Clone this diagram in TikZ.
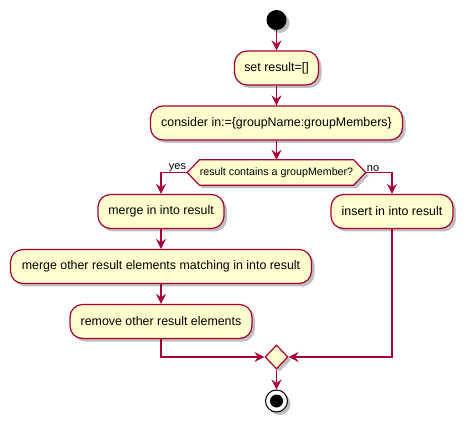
\documentclass[tikz,border=0pt]{standalone}
\usepackage{fontspec}
\setmainfont{Liberation Sans}
\usetikzlibrary{arrows.meta,shadows,shapes.geometric,calc}
\definecolor{pfill}{HTML}{FEFECE}
\definecolor{pline}{HTML}{A80036}
\tikzset{
  shd/.style={drop shadow={shadow xshift=3pt,shadow yshift=-3pt,fill=black,opacity=0.25}},
  actbox/.style={draw=pline,fill=pfill,line width=1.2pt,rounded corners=12.5pt,
    minimum height=34pt,inner sep=0pt,font=\fontsize{12.4}{14}\selectfont,shd},
  flow/.style={draw=pline,line width=1.2pt,-{Stealth[length=10pt,width=10pt,inset=3.5pt]}},
  plain/.style={draw=pline,line width=1.2pt},
  lbl/.style={font=\fontsize{11}{13}\selectfont,inner sep=1pt},
}
\begin{document}
\begin{tikzpicture}[x=1pt,y=-1pt]
\useasboundingbox (0,0) rectangle (468,427);
% start
\node[circle,fill=black,minimum size=20pt,inner sep=0pt,shd] (start) at (276.5,20) {};
\node[actbox,minimum width=84pt] (set) at (276.5,68) {set result=[]};
\node[actbox,minimum width=252pt] (cons) at (276.5,123) {consider in:=\{groupName:groupMembers\}};
% decision hexagon
\node[minimum width=178pt,minimum height=25pt,inner sep=0pt] (dec) at (276.5,172.5) {};
\filldraw[draw=pline,fill=pfill,line width=1.2pt,shd]
  (dec.west) -- ($(dec.north west)+(12,0)$) -- ($(dec.north east)+(-12,0)$) -- (dec.east)
  -- ($(dec.south east)+(-12,0)$) -- ($(dec.south west)+(12,0)$) -- cycle;
\node[font=\fontsize{10.7}{12}\selectfont] at (dec) {result contains a groupMember?};
\node[actbox,minimum width=126pt] (merge) at (161,211.5) {merge in into result};
\node[actbox,minimum width=122pt] (ins) at (392,211.5) {insert in into result};
\node[actbox,minimum width=301pt] (mother) at (161,266.5) {merge other result elements matching in into result};
\node[actbox,minimum width=182pt] (rem) at (161,321.5) {remove other result elements};
\node[diamond,draw=pline,fill=pfill,line width=1.2pt,minimum width=23pt,minimum height=24pt,inner sep=0pt,shd] (join) at (276.5,357) {};
\node[circle,draw=black,fill=white,line width=1pt,minimum size=22pt,inner sep=0pt,shd] (stop) at (276.5,401) {};
\node[circle,fill=black,minimum size=13pt,inner sep=0pt] (stopin) at (stop) {};
% connectors
\draw[flow] (start) -- (set);
\draw[flow] (set) -- (cons);
\draw[flow] (cons) -- (dec);
\draw[flow] (dec.west) -| (merge.north);
\draw[flow] (dec.east) -| (ins.north);
\draw[flow] (merge) -- (mother);
\draw[flow] (mother) -- (rem);
\draw[flow] (rem.south) |- (join.west);
\draw[flow] (ins.south) |- (join.east);
\draw[flow] (join) -- (stop);
% labels
\node[lbl,anchor=south east] (yes) at (dec.west) {yes};
\node[lbl,anchor=south west] (no) at (dec.east) {no};
\end{tikzpicture}
\end{document}
